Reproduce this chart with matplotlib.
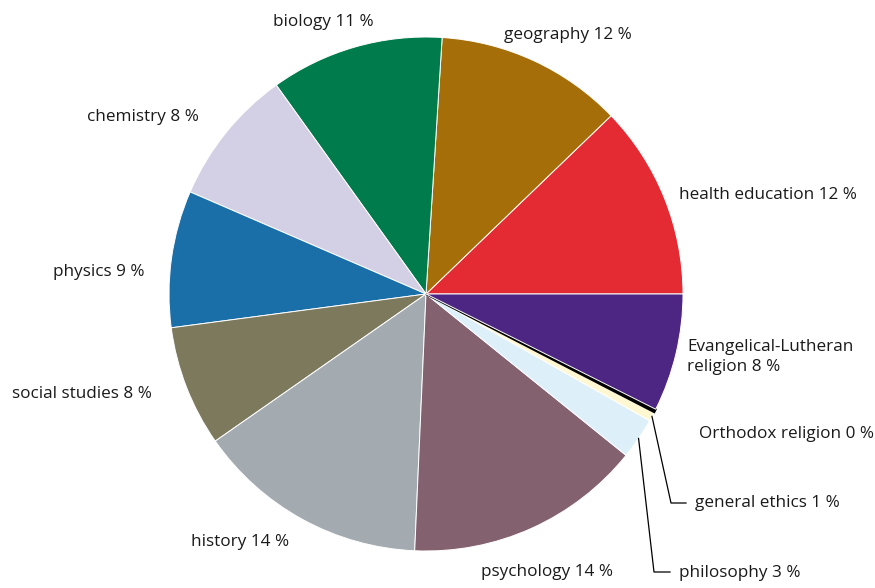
import matplotlib
matplotlib.use("Agg")
import matplotlib.pyplot as plt
import numpy as np

categories = ["health education", "geography", "biology", "chemistry", "physics",
              "social studies", "history", "psychology", "philosophy",
              "general ethics", "Orthodox religion", "Evangelical-Lutheran\nreligion"]
values = [12.2, 11.8, 10.9, 8.6, 8.6, 7.6, 14.6, 14.9, 2.6, 0.6, 0.2, 7.4]
shown_pct = [12, 12, 11, 8, 9, 8, 14, 14, 3, 1, 0, 8]
colors = ["#E42A33", "#A66E08", "#007B4C", "#D3CFE4", "#1B6FA8", "#7C795D",
          "#A3ABB0", "#83616F", "#DDEFF9", "#FFF6D2", "#000000", "#4D2684"]

W, H = 875, 588
CX, CY, R = 426, 294, 257

plt.rcParams['font.family'] = ['Open Sans', 'DejaVu Sans']
fig = plt.figure(figsize=(W / 100, H / 100), dpi=100)
ax = fig.add_axes([0, 0, 1, 1])

wedges, _ = ax.pie(values, colors=colors, startangle=0, counterclock=True,
                   radius=1.0, center=(0, 0),
                   wedgeprops=dict(edgecolor='white', linewidth=0.7))
ax.set_xlim(-CX / R, (W - CX) / R)
ax.set_ylim((CY - H) / R, CY / R)
ax.set_aspect('equal')
ax.axis('off')
wedges[10].set_edgecolor('black')
wedges[10].set_linewidth(1.5)


def px(x, y):
    return ((x - CX) / R, (CY - y) / R)


# label anchor positions in pixels (left edge, vertical centre)
label_pos = [(679, 195), (504, 35), (273, 22), (87, 117), (53, 272), (12, 394),
             (191, 542), (481, 572), (679, 573), (695, 503), (699, 434), (687, 357)]

for cat, p, (lx, ly) in zip(categories, shown_pct, label_pos):
    ax.text(*px(lx, ly), f"{cat} {p} %", ha='left', va='center',
            fontsize=12.3, color='#1a1a1a', linespacing=1.4)

# leader lines for small slices
leaders = {8: [(654, 572), (670, 572)], 9: [(671, 503), (686, 503)]}
for idx, pts in leaders.items():
    w = wedges[idx]
    mid = np.deg2rad((w.theta1 + w.theta2) / 2)
    xs = [np.cos(mid)] + [px(*p)[0] for p in pts]
    ys = [np.sin(mid)] + [px(*p)[1] for p in pts]
    ax.plot(xs, ys, color='black', lw=0.9)

fig.savefig("out.png", dpi=100)
